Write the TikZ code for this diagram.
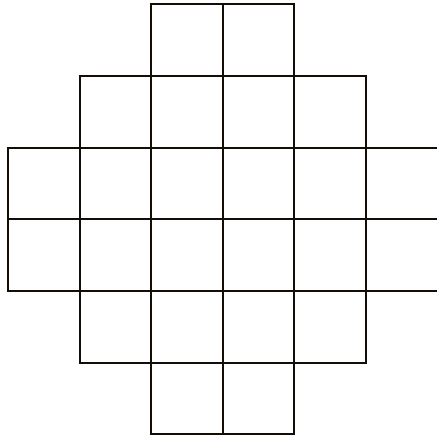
\documentclass[tikz,border=0pt]{standalone}
\usepackage{tikz}

\begin{document}
\begin{tikzpicture}[
    x=1cm, y=1cm,
    cellbox/.style={draw=black!90!brown, line width=0.8pt}
]
\useasboundingbox (-0.11,-6.0) rectangle (5.99,0.06);

% rows from the top: row / first column / last column
\foreach \r/\a/\b in {0/2/3, 1/1/4, 2/0/5, 3/0/5, 4/1/4, 5/2/3} {
  \foreach \c in {\a,...,\b} {
    \draw[cellbox] (\c,-\r) rectangle ++(1,-1);
  }
}
\end{tikzpicture}
\end{document}
